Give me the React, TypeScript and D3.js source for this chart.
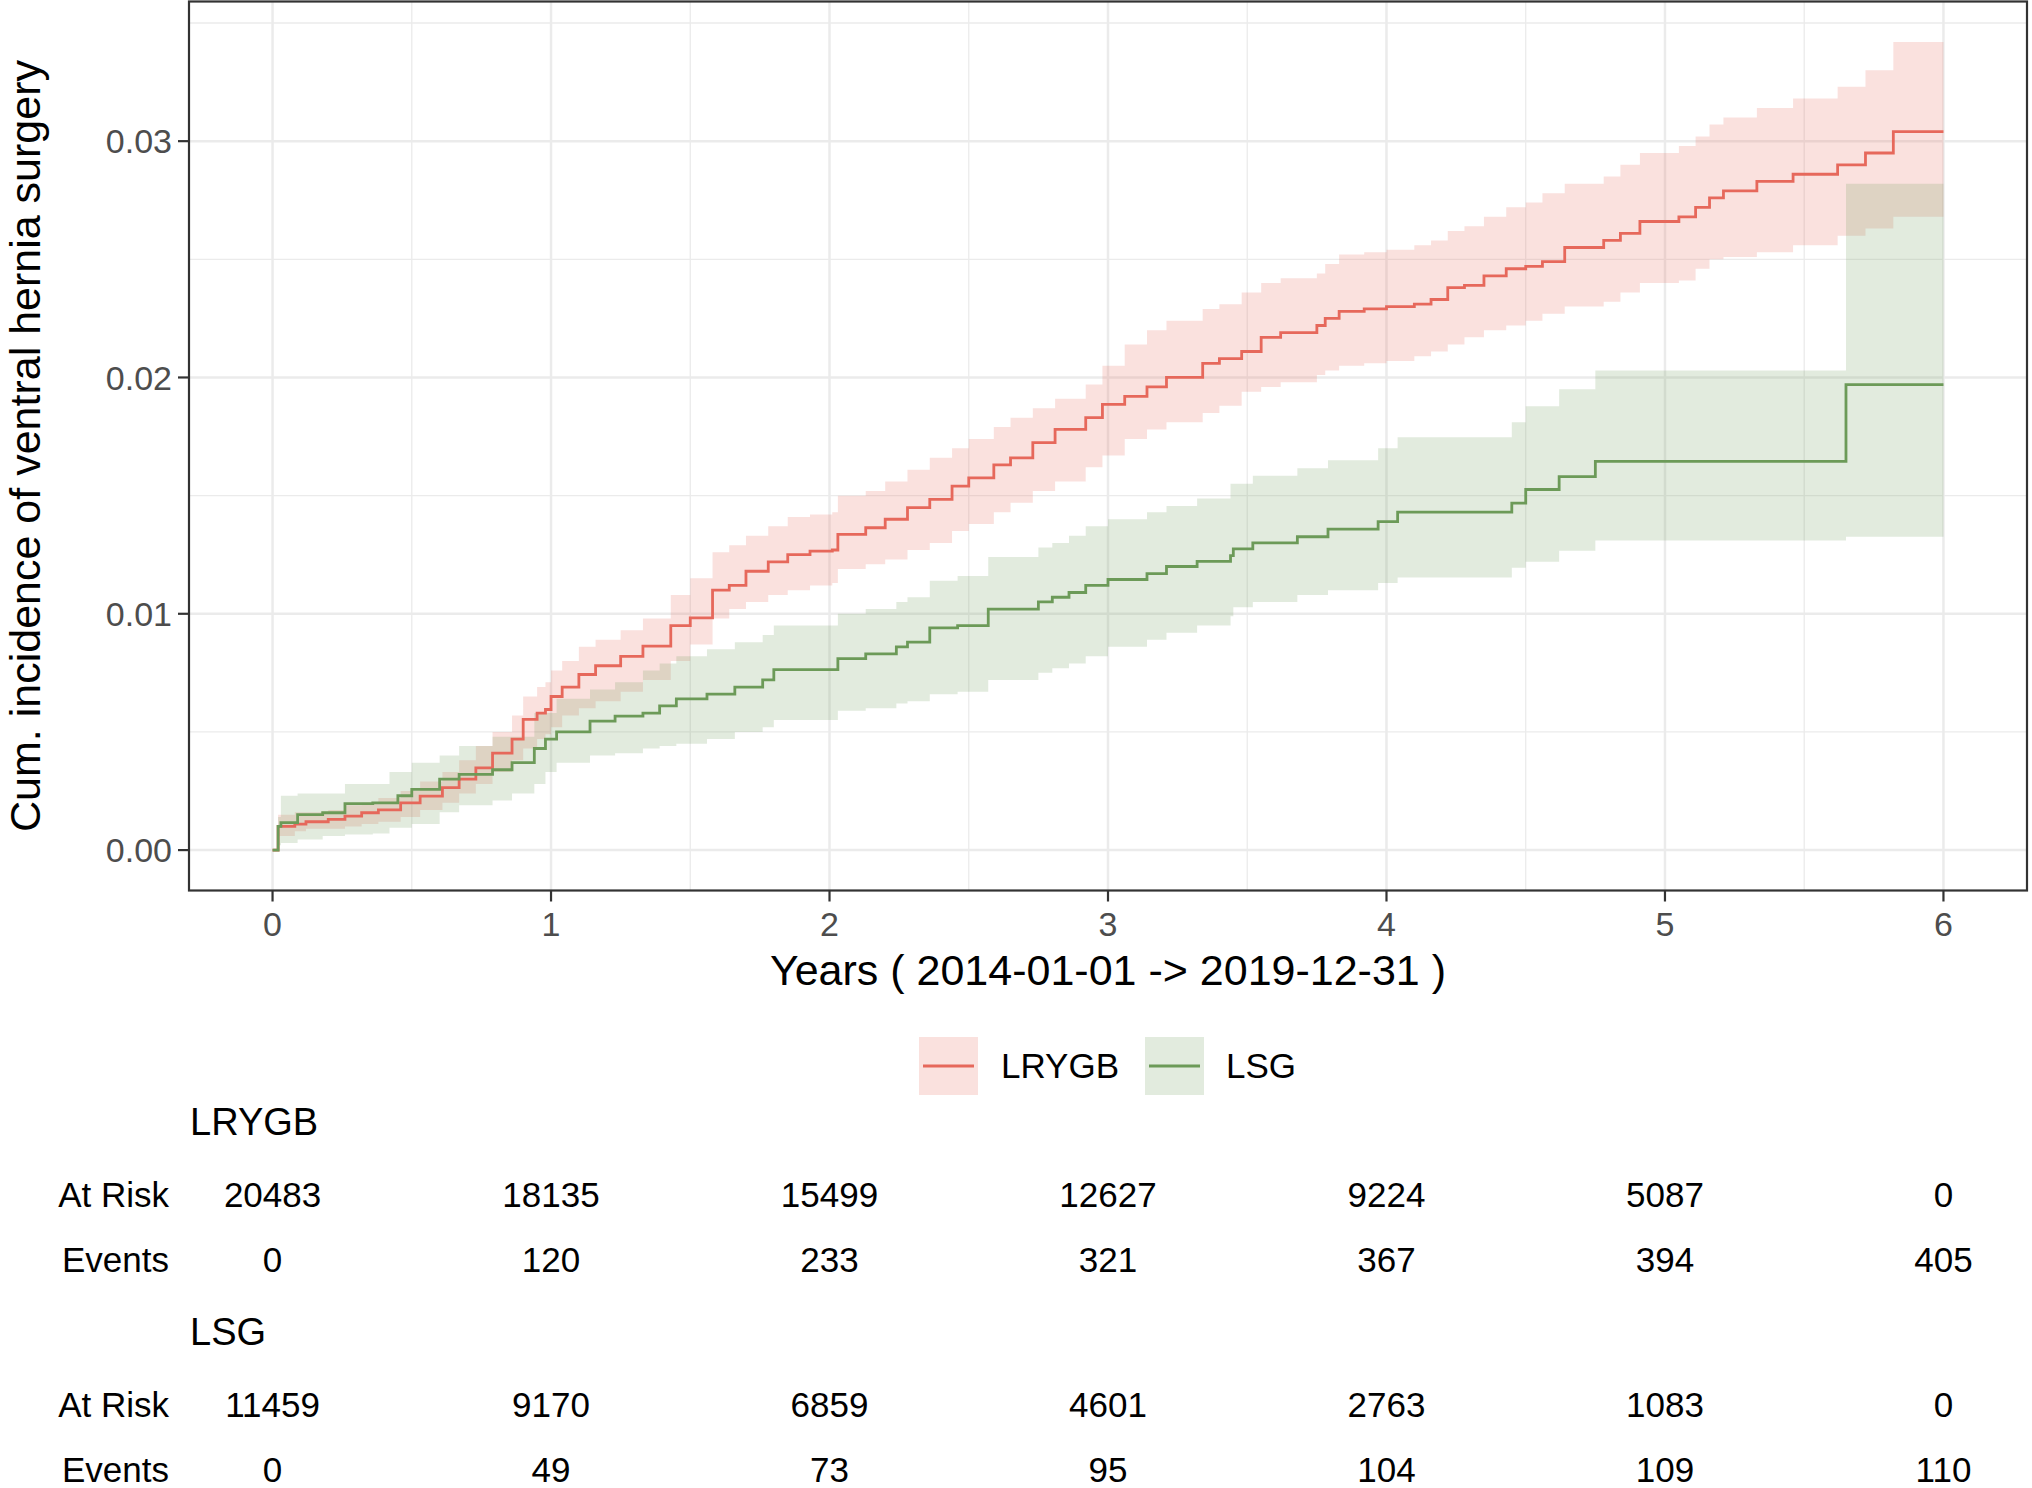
import React from "react";
import * as d3 from "d3";

// ---------- DATA ----------
const lrygbTime = [0, 0.02, 0.08, 0.12, 0.2, 0.26, 0.32, 0.38, 0.46, 0.53, 0.61, 0.67, 0.73, 0.79, 0.86, 0.9, 0.95, 0.98, 1.0, 1.04, 1.1, 1.16, 1.25, 1.33, 1.43, 1.5, 1.58, 1.64, 1.7, 1.78, 1.85, 1.93, 2.01, 2.03, 2.13, 2.2, 2.28, 2.36, 2.44, 2.5, 2.59, 2.65, 2.73, 2.81, 2.92, 2.98, 3.06, 3.14, 3.21, 3.34, 3.4, 3.48, 3.55, 3.62, 3.75, 3.78, 3.83, 3.92, 4.0, 4.1, 4.16, 4.22, 4.28, 4.35, 4.43, 4.5, 4.56, 4.64, 4.78, 4.84, 4.91, 5.05, 5.11, 5.16, 5.21, 5.33, 5.46, 5.62, 5.72, 5.82, 6.0];
const lrygbEst = [0, 0.001, 0.0011, 0.0012, 0.0013, 0.00144, 0.00158, 0.0017, 0.002, 0.00228, 0.00264, 0.003, 0.00348, 0.0041, 0.0047, 0.00553, 0.0058, 0.00595, 0.0065, 0.0069, 0.00743, 0.0078, 0.0082, 0.00863, 0.0095, 0.00983, 0.011, 0.0112, 0.0118, 0.0122, 0.0125, 0.01265, 0.0127, 0.01336, 0.01364, 0.014, 0.01449, 0.01484, 0.0154, 0.01575, 0.0163, 0.0166, 0.01724, 0.0178, 0.0183, 0.01886, 0.0192, 0.0196, 0.02, 0.0206, 0.0208, 0.0211, 0.0217, 0.0219, 0.0222, 0.0225, 0.0228, 0.0229, 0.023, 0.0231, 0.0233, 0.0238, 0.0239, 0.0243, 0.0246, 0.0247, 0.0249, 0.0255, 0.0258, 0.0261, 0.0266, 0.0268, 0.0272, 0.0276, 0.0279, 0.0283, 0.0286, 0.029, 0.0295, 0.0304, 0.0304];
const lrygbLower = [0, 0.0006, 0.0008, 0.0009, 0.0009, 0.001, 0.0011, 0.0012, 0.0014, 0.0017, 0.002, 0.0024, 0.0028, 0.0033, 0.0038, 0.0043, 0.0047, 0.0049, 0.0052, 0.0057, 0.006, 0.0063, 0.0067, 0.0072, 0.008, 0.0087, 0.0098, 0.0102, 0.0105, 0.0108, 0.011, 0.0112, 0.0113, 0.0119, 0.0121, 0.0123, 0.0127, 0.013, 0.0135, 0.0138, 0.0143, 0.0147, 0.0152, 0.0156, 0.0162, 0.0167, 0.0174, 0.0178, 0.0181, 0.0185, 0.0188, 0.0194, 0.0196, 0.0198, 0.0201, 0.0203, 0.0205, 0.0206, 0.0207, 0.0209, 0.0211, 0.0214, 0.0217, 0.022, 0.0222, 0.0224, 0.0227, 0.023, 0.0232, 0.0236, 0.024, 0.0241, 0.0246, 0.025, 0.0251, 0.0253, 0.0256, 0.026, 0.0263, 0.0268, 0.0268];
const lrygbUpper = [0, 0.0015, 0.0016, 0.0016, 0.0017, 0.0019, 0.002, 0.0022, 0.0025, 0.0029, 0.0033, 0.0038, 0.0044, 0.005, 0.0057, 0.0065, 0.0069, 0.0071, 0.0076, 0.008, 0.0086, 0.0089, 0.0093, 0.0098, 0.0108, 0.0115, 0.0126, 0.0129, 0.0133, 0.0137, 0.0141, 0.0142, 0.0143, 0.015, 0.0152, 0.0156, 0.0161, 0.0166, 0.017, 0.0174, 0.0179, 0.0183, 0.0187, 0.0191, 0.0197, 0.0205, 0.0214, 0.022, 0.0224, 0.0229, 0.0231, 0.0236, 0.024, 0.0242, 0.0244, 0.0248, 0.0252, 0.0253, 0.0254, 0.0256, 0.0258, 0.0262, 0.0264, 0.0268, 0.0272, 0.0274, 0.0278, 0.0282, 0.0285, 0.029, 0.0295, 0.0298, 0.0302, 0.0307, 0.031, 0.0314, 0.0318, 0.0323, 0.033, 0.0342, 0.0342];

const lsgTime = [0, 0.02, 0.03, 0.09, 0.18, 0.26, 0.36, 0.42, 0.45, 0.5, 0.6, 0.67, 0.79, 0.86, 0.94, 0.98, 1.02, 1.14, 1.23, 1.33, 1.39, 1.45, 1.56, 1.66, 1.76, 1.8, 2.03, 2.13, 2.24, 2.28, 2.36, 2.46, 2.57, 2.75, 2.8, 2.86, 2.92, 3.0, 3.14, 3.21, 3.32, 3.44, 3.45, 3.52, 3.68, 3.79, 3.97, 4.04, 4.45, 4.5, 4.62, 4.75, 5.65, 6.0];
const lsgEst = [0, 0.001, 0.00116, 0.0015, 0.00158, 0.00197, 0.002, 0.002, 0.0023, 0.00257, 0.003, 0.0032, 0.0034, 0.0037, 0.0043, 0.0047, 0.005, 0.00546, 0.00567, 0.0058, 0.0061, 0.0064, 0.0066, 0.0069, 0.0072, 0.00764, 0.0081, 0.0083, 0.0086, 0.0088, 0.0094, 0.0095, 0.0102, 0.0105, 0.0107, 0.0109, 0.0112, 0.01145, 0.0117, 0.012, 0.01222, 0.01246, 0.01275, 0.013, 0.01326, 0.01358, 0.0139, 0.0143, 0.01468, 0.01526, 0.0158, 0.01645, 0.0197, 0.0197];
const lsgLower = [0, 0.0002, 0.0003, 0.00045, 0.0006, 0.00066, 0.0007, 0.00095, 0.00095, 0.0011, 0.0016, 0.0019, 0.0021, 0.0024, 0.0028, 0.0033, 0.0037, 0.004, 0.0041, 0.0043, 0.0044, 0.0045, 0.0047, 0.005, 0.0052, 0.0055, 0.0059, 0.006, 0.0062, 0.0063, 0.0066, 0.0067, 0.0072, 0.0075, 0.0077, 0.0079, 0.0082, 0.0086, 0.0089, 0.0092, 0.0095, 0.0099, 0.01028, 0.0105, 0.0108, 0.011, 0.0113, 0.01154, 0.01195, 0.0122, 0.01267, 0.0131, 0.01326, 0.01326];
const lsgUpper = [0, 0.0014, 0.0023, 0.0024, 0.0024, 0.0028, 0.0028, 0.0033, 0.0033, 0.0037, 0.004, 0.0044, 0.0048, 0.0048, 0.0058, 0.0058, 0.0064, 0.0068, 0.0071, 0.0076, 0.0079, 0.0082, 0.0085, 0.0088, 0.0091, 0.0095, 0.01, 0.0102, 0.0105, 0.0107, 0.0114, 0.0116, 0.0124, 0.0128, 0.013, 0.0133, 0.0137, 0.014, 0.0143, 0.01456, 0.01488, 0.0155, 0.0155, 0.01584, 0.01616, 0.0165, 0.017, 0.01747, 0.0181, 0.01878, 0.0195, 0.0203, 0.0282, 0.0282];

const xTicks = [0, 1, 2, 3, 4, 5, 6];
const xMinor = [0.5, 1.5, 2.5, 3.5, 4.5, 5.5];
const yTicks = [0, 0.01, 0.02, 0.03];
const yMinor = [0.005, 0.015, 0.025, 0.035];
const yTickLabels = ["0.00", "0.01", "0.02", "0.03"];

const groups = ["LRYGB", "LSG"];
const groupColors = ["#E6685B", "#6C9A58"];
const lrygbAtRisk = [20483, 18135, 15499, 12627, 9224, 5087, 0];
const lrygbEvents = [0, 120, 233, 321, 367, 394, 405];
const lsgAtRisk = [11459, 9170, 6859, 4601, 2763, 1083, 0];
const lsgEvents = [0, 49, 73, 95, 104, 109, 110];

const xTitle = "Years ( 2014-01-01 -> 2019-12-31 )";
const yTitle = "Cum. incidence of ventral hernia surgery";

// ---------- LAYOUT ----------
const W = 2032;
const H = 1488;
const P = { left: 189, right: 2027, top: 1.5, bottom: 890.5 };
const FONT = "'Liberation Sans', Arial, Helvetica, sans-serif";

type Pt = { t: number; e: number; lo: number; hi: number };
const zip = (t: number[], e: number[], lo: number[], hi: number[]): Pt[] =>
  t.map((v, i) => ({ t: v, e: e[i], lo: lo[i], hi: hi[i] }));

export default function App() {
  const x = d3.scaleLinear().domain([-0.3, 6.3]).range([P.left, P.right]);
  const y = d3.scaleLinear().domain([-0.00171, 0.03591]).range([P.bottom, P.top]);

  const series = [
    zip(lrygbTime, lrygbEst, lrygbLower, lrygbUpper),
    zip(lsgTime, lsgEst, lsgLower, lsgUpper),
  ];

  const line = d3
    .line<Pt>()
    .x((d) => x(d.t))
    .y((d) => y(d.e))
    .curve(d3.curveStepAfter);
  const area = d3
    .area<Pt>()
    .x((d) => x(d.t))
    .y0((d) => y(d.lo))
    .y1((d) => y(d.hi))
    .curve(d3.curveStepAfter);

  const table = [
    { name: groups[0], risk: lrygbAtRisk, events: lrygbEvents, base: 1135 },
    { name: groups[1], risk: lsgAtRisk, events: lsgEvents, base: 1345 },
  ];

  const gridCol = "#EBEBEB";
  const dark = "#333333";

  return (
    <svg
      width={W}
      height={H}
      viewBox={`0 0 ${W} ${H}`}
      style={{ position: "absolute", left: 0, top: 0, display: "block", background: "#fff" }}
      fontFamily={FONT}
    >
      <defs>
        <clipPath id="panel">
          <rect x={P.left} y={P.top} width={P.right - P.left} height={P.bottom - P.top} />
        </clipPath>
      </defs>
      <rect x={0} y={0} width={W} height={H} fill="#fff" />

      {/* grid */}
      <g>
        {yMinor.map((v) => (
          <line key={"ym" + v} x1={P.left} x2={P.right} y1={y(v)} y2={y(v)} stroke={gridCol} strokeWidth={1.3} />
        ))}
        {xMinor.map((v) => (
          <line key={"xm" + v} x1={x(v)} x2={x(v)} y1={P.top} y2={P.bottom} stroke={gridCol} strokeWidth={1.3} />
        ))}
        {yTicks.map((v) => (
          <line key={"yM" + v} x1={P.left} x2={P.right} y1={y(v)} y2={y(v)} stroke={gridCol} strokeWidth={2.5} />
        ))}
        {xTicks.map((v) => (
          <line key={"xM" + v} x1={x(v)} x2={x(v)} y1={P.top} y2={P.bottom} stroke={gridCol} strokeWidth={2.5} />
        ))}
      </g>

      {/* ribbons and curves */}
      <g clipPath="url(#panel)">
        {series.map((s, i) => (
          <path key={"a" + i} d={area(s) || ""} fill={groupColors[i]} fillOpacity={0.2} stroke="none" />
        ))}
        {series.map((s, i) => (
          <path key={"l" + i} d={line(s) || ""} fill="none" stroke={groupColors[i]} strokeWidth={2.8} />
        ))}
      </g>

      {/* panel border */}
      <rect
        x={P.left}
        y={P.top}
        width={P.right - P.left}
        height={P.bottom - P.top}
        fill="none"
        stroke={dark}
        strokeWidth={2.2}
      />

      {/* y axis */}
      {yTicks.map((v, i) => (
        <g key={"yt" + v}>
          <line x1={P.left - 11} x2={P.left} y1={y(v)} y2={y(v)} stroke={dark} strokeWidth={2.2} />
          <text x={172} y={y(v)} dy="0.36em" textAnchor="end" fontSize={34} fill="#4D4D4D">
            {yTickLabels[i]}
          </text>
        </g>
      ))}
      {/* x axis */}
      {xTicks.map((v) => (
        <g key={"xt" + v}>
          <line x1={x(v)} x2={x(v)} y1={P.bottom} y2={P.bottom + 11} stroke={dark} strokeWidth={2.2} />
          <text x={x(v)} y={936} textAnchor="middle" fontSize={34} fill="#4D4D4D">
            {String(v)}
          </text>
        </g>
      ))}

      <text x={(P.left + P.right) / 2} y={985} textAnchor="middle" fontSize={43} fill="#000">
        {xTitle}
      </text>
      <text
        transform={`translate(40, ${(P.top + P.bottom) / 2}) rotate(-90)`}
        textAnchor="middle"
        fontSize={43}
        fill="#000"
      >
        {yTitle}
      </text>

      {/* legend */}
      {groups.map((g, i) => {
        const bx = [919, 1145][i];
        const tx = [1001, 1226][i];
        return (
          <g key={"lg" + g}>
            <rect x={bx} y={1037} width={59} height={58} fill={groupColors[i]} fillOpacity={0.2} />
            <line x1={bx + 4} x2={bx + 55} y1={1066} y2={1066} stroke={groupColors[i]} strokeWidth={2.8} />
            <text x={tx} y={1078} fontSize={35} fill="#000">
              {g}
            </text>
          </g>
        );
      })}

      {/* risk table */}
      {table.map((row) => (
        <g key={"tb" + row.name}>
          <text x={P.left + 1} y={row.base} fontSize={38} fill="#000">
            {row.name}
          </text>
          <text x={169} y={row.base + 72} textAnchor="end" fontSize={35} fill="#000">
            At Risk
          </text>
          <text x={169} y={row.base + 137} textAnchor="end" fontSize={35} fill="#000">
            Events
          </text>
          {xTicks.map((t, j) => (
            <g key={"c" + t}>
              <text x={x(t)} y={row.base + 72} textAnchor="middle" fontSize={35} fill="#000">
                {String(row.risk[j])}
              </text>
              <text x={x(t)} y={row.base + 137} textAnchor="middle" fontSize={35} fill="#000">
                {String(row.events[j])}
              </text>
            </g>
          ))}
        </g>
      ))}
    </svg>
  );
}
